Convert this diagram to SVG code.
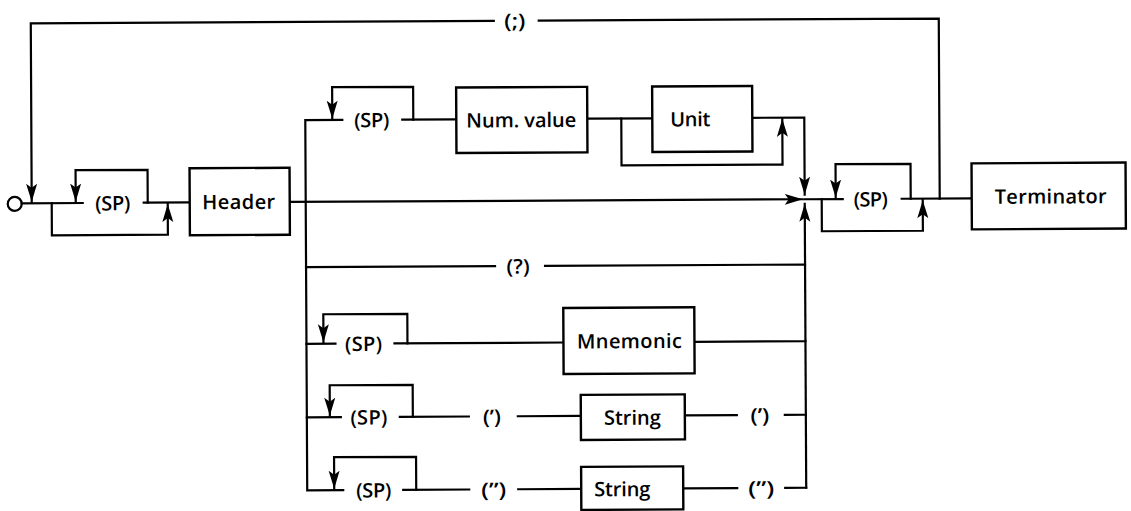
<svg xmlns="http://www.w3.org/2000/svg" width="1131" height="511" viewBox="0 0 1131 511">
<style>
  .ln{fill:none;stroke:#000;stroke-width:2.2;stroke-linecap:square;stroke-linejoin:miter}
  .ar{marker-end:url(#ah)}
  .bx{fill:#fff;stroke:#000;stroke-width:2.4}
  .t{font-family:"Open Sans","DejaVu Sans","Liberation Sans",sans-serif;font-weight:600;font-size:20px;fill:#000;text-anchor:middle}
</style>
<defs>
  <marker id="ah" markerUnits="userSpaceOnUse" markerWidth="20" markerHeight="12" refX="18" refY="6" orient="auto">
    <path d="M0,0.5 L18,6 L0,11.5 L4,6 Z" fill="#000"/>
  </marker>
</defs>
<rect width="1131" height="511" fill="#fff"/>
<g transform="rotate(-0.3 565 255)">
  <g id="connectors">
    <circle cx="15" cy="201" r="7" class="ln"/>
    <path class="ln" d="M940,200.5 V20.5 H540"/>
    <path class="ln ar" d="M495,20.5 H32 V199"/>
    <path class="ln" d="M22,200.5 H83"/>
    <path class="ln ar" d="M52,200.5 V232.6 H168 V202"/>
    <path class="ln ar" d="M148,200.5 V167.6 H76 V199"/>
    <path class="ln" d="M144,200.5 H190"/>
    <path class="ln ar" d="M290,200.5 H803"/>
    <path class="ln" d="M343,118.8 H306 V489 H342"/>
    <path class="ln ar" d="M414,118.8 V86 H333 V117.5"/>
    <path class="ln" d="M403,118.8 H457"/>
    <path class="ln" d="M588,118.8 H653"/>
    <path class="ln ar" d="M622,118.8 V165.7 H783 V120"/>
    <path class="ln ar" d="M753,118.8 H805 V196"/>
    <path class="ln" d="M306,265.8 H495"/>
    <path class="ln" d="M545,265.8 H805"/>
    <path class="ln ar" d="M805,489 V205"/>
    <path class="ln" d="M306,342.5 H335"/>
    <path class="ln ar" d="M407,342.5 V313 H323 V341"/>
    <path class="ln" d="M394,342.5 H563"/>
    <path class="ln" d="M694,342.5 H805"/>
    <path class="ln" d="M306,416 H340"/>
    <path class="ln ar" d="M412,416 V384 H329 V414.5"/>
    <path class="ln" d="M399,416 H468"/>
    <path class="ln" d="M517,416 H580"/>
    <path class="ln" d="M684,416 H736"/>
    <path class="ln" d="M784,416 H805"/>
    <path class="ln ar" d="M415,489 V456 H333 V487.5"/>
    <path class="ln" d="M402,489 H468"/>
    <path class="ln" d="M517,489 H580"/>
    <path class="ln" d="M682,489 H736"/>
    <path class="ln" d="M784,489 H805"/>
    <path class="ln" d="M805,200.5 H843"/>
    <path class="ln ar" d="M822,200.5 V232.6 H923 V202"/>
    <path class="ln ar" d="M911,200.5 V165.6 H836 V199"/>
    <path class="ln" d="M902,200.5 H972"/>
  </g>
  <g id="header">
    <rect class="bx" x="190" y="166.3" width="100" height="67"/>
    <text class="t" x="239" y="207.3" textLength="73" lengthAdjust="spacing">Header</text>
  </g>
  <g id="numvalue">
    <rect class="bx" x="457" y="87" width="131" height="65.5"/>
    <text class="t" x="522" y="127" textLength="110" lengthAdjust="spacing">Num. value</text>
  </g>
  <g id="unit">
    <rect class="bx" x="653" y="87" width="100" height="65.5"/>
    <text class="t" x="691" y="127" textLength="40" lengthAdjust="spacing">Unit</text>
  </g>
  <g id="terminator">
    <rect class="bx" x="972" y="165.5" width="154" height="66"/>
    <text class="t" x="1051" y="206" textLength="112" lengthAdjust="spacing">Terminator</text>
  </g>
  <g id="mnemonic">
    <rect class="bx" x="563" y="308" width="131" height="66"/>
    <text class="t" x="629" y="348.5" textLength="105" lengthAdjust="spacing">Mnemonic</text>
  </g>
  <g id="string1">
    <rect class="bx" x="580" y="395" width="104" height="45"/>
    <text class="t" x="631.5" y="425" textLength="57" lengthAdjust="spacing">String</text>
  </g>
  <g id="string2">
    <rect class="bx" x="580" y="467" width="102" height="43"/>
    <text class="t" x="621" y="496.5" textLength="56" lengthAdjust="spacing">String</text>
  </g>
  <g id="labels">
    <text class="t" x="516" y="27.8" textLength="21" lengthAdjust="spacingAndGlyphs">(;)</text>
    <text class="t" x="113" y="208" textLength="35" lengthAdjust="spacing">(SP)</text>
    <text class="t" x="372.5" y="126.3" textLength="35" lengthAdjust="spacing">(SP)</text>
    <text class="t" x="871" y="208" textLength="34" lengthAdjust="spacing">(SP)</text>
    <text class="t" x="518" y="273.3" textLength="23" lengthAdjust="spacingAndGlyphs">(?)</text>
    <text class="t" x="363" y="350" textLength="37" lengthAdjust="spacing">(SP)</text>
    <text class="t" x="368" y="423.5" textLength="37" lengthAdjust="spacing">(SP)</text>
    <text class="t" x="491" y="423.5" textLength="18" lengthAdjust="spacingAndGlyphs">(’)</text>
    <text class="t" x="759" y="423.5" textLength="19" lengthAdjust="spacingAndGlyphs">(’)</text>
    <text class="t" x="372.5" y="496.5" textLength="35" lengthAdjust="spacing">(SP)</text>
    <text class="t" x="492.5" y="496.5" textLength="25" lengthAdjust="spacingAndGlyphs">(”)</text>
    <text class="t" x="760" y="496.5" textLength="26" lengthAdjust="spacingAndGlyphs">(”)</text>
  </g>
</g>
</svg>
